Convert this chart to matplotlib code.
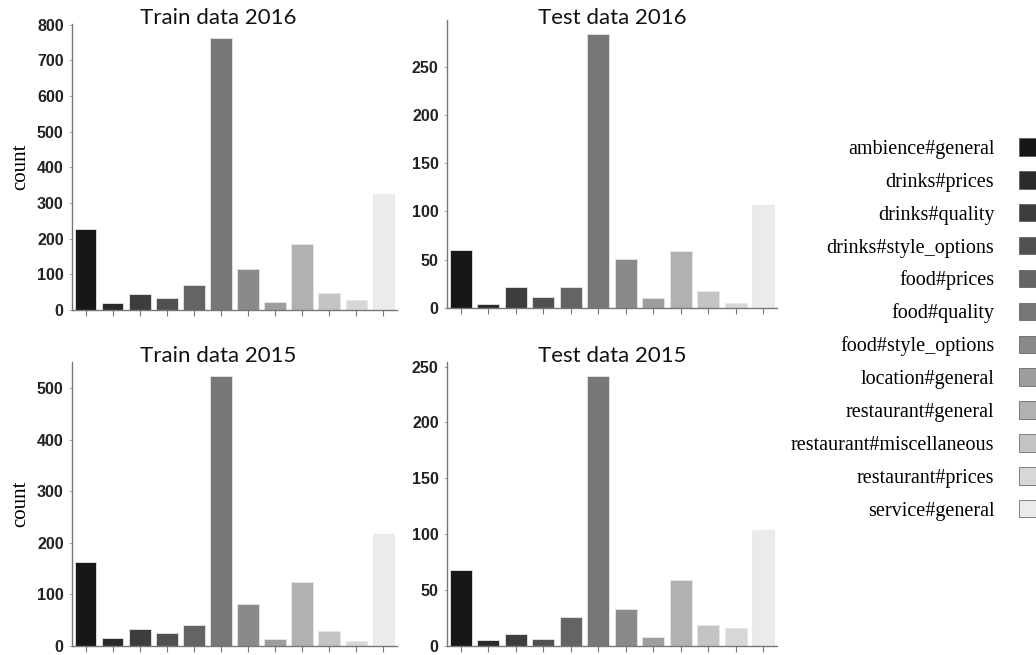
"""
Aspect category counts, SemEval restaurant train/test 2015-2016 (4 panels + shared legend)
"""
import numpy as np
import matplotlib
matplotlib.use("Agg")
import matplotlib.pyplot as plt
from matplotlib.patches import Patch

categories = ["ambience#general", "drinks#prices", "drinks#quality", "drinks#style_options",
              "food#prices", "food#quality", "food#style_options", "location#general",
              "restaurant#general", "restaurant#miscellaneous", "restaurant#prices",
              "service#general"]

train_2016 = [226, 20, 44, 33, 69, 764, 115, 22, 186, 49, 28, 324]
test_2016 = [60, 4, 22, 11, 22, 284, 51, 10, 59, 18, 5, 107]
train_2015 = [164, 15, 33, 25, 41, 525, 82, 13, 125, 30, 9, 218]
test_2015 = [68, 5, 11, 6, 26, 242, 33, 8, 59, 19, 16, 104]

# 회색 그라데이션 (검정 -> 밝은 회색)
colors = [str(v) for v in np.linspace(0.09, 0.92, len(categories))]

W, H = 1036, 655
fig = plt.figure(figsize=(W / 100, H / 100), dpi=100)


def px_axes(l, t, r, b):
    return fig.add_axes([l / W, 1 - b / H, (r - l) / W, (b - t) / H])


panels = [
    ("Train data 2016", train_2016, (72, 24, 397, 310), 0.45, 1.0, True),
    ("Test data 2016", test_2016, (447, 20, 777, 308), 0.5, 0.985, False),
    ("Train data 2015", train_2015, (72, 362, 397, 646), 0.45, 1.0, True),
    ("Test data 2015", test_2015, (447, 362, 777, 646), 0.5, 1.0, False),
]

for title, vals, box, tx, ty, ylab in panels:
    ax = px_axes(*box)
    x = np.arange(len(categories))
    ax.bar(x, vals, width=0.8, color=colors, edgecolor="#e6e6e6", linewidth=0.6)
    ax.set_xlim(-0.5, len(categories) - 0.5)
    ax.set_ylim(0, max(vals) * 1.05)
    ax.set_xticks(x)
    ax.set_xticklabels([])
    for s in ("top", "right"):
        ax.spines[s].set_visible(False)
    for s in ("left", "bottom"):
        ax.spines[s].set_color("#777777")
        ax.spines[s].set_linewidth(1.0)
    ax.tick_params(axis="x", length=4, width=0.8, color="#777777")
    ax.tick_params(axis="y", length=2, width=0.6, color="#999999", pad=4)
    for lb in ax.get_yticklabels():
        lb.set_family("Liberation Sans"); lb.set_fontsize(11.5); lb.set_weight("bold")
        lb.set_color("#222222")
    ax.text(tx, ty, title, transform=ax.transAxes, ha="center", va="baseline",
            fontsize=16, family="Lato", color="#111111")
    if ylab:
        ax.set_ylabel("count", family="Liberation Serif", fontsize=15, labelpad=5)

handles = [Patch(facecolor=c, edgecolor="#555555", linewidth=0.5) for c in colors]
leg = fig.legend(handles, categories, loc="center right", bbox_to_anchor=(1.02, 0.497),
                 frameon=False, markerfirst=False, handlelength=0.95, handleheight=0.95,
                 labelspacing=0.61, handletextpad=1.25,
                 prop={"family": "Liberation Serif", "size": 14.5})

fig.savefig("out.png", dpi=100)
